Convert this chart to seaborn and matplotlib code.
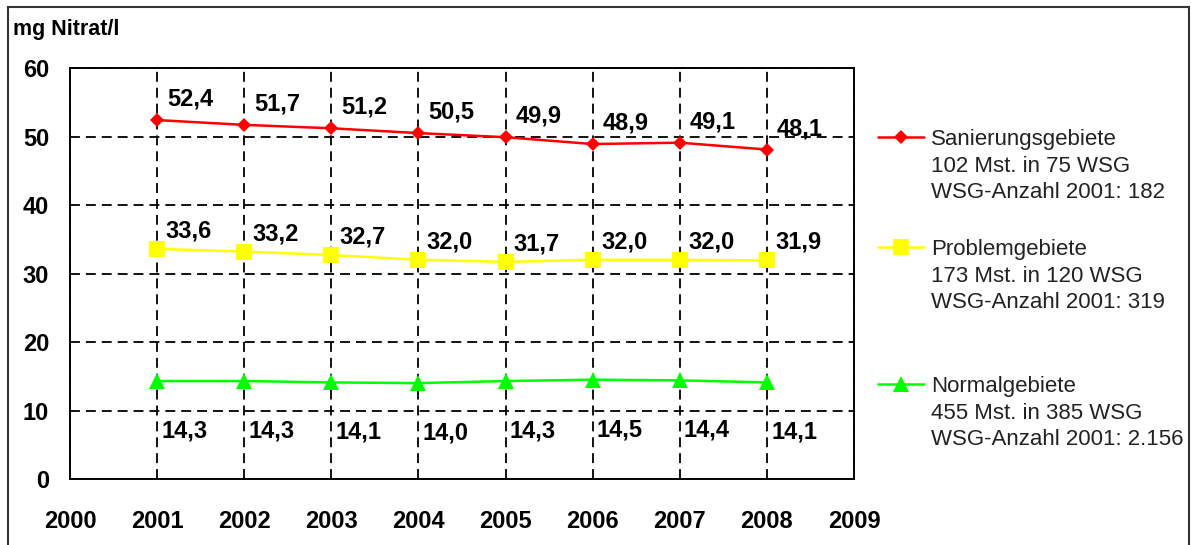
import pandas as pd
import matplotlib.pyplot as plt
import seaborn as sns
from matplotlib.patches import Rectangle

# Werte (mg Nitrat/l) je Gebietstyp
jahre = [2001, 2002, 2003, 2004, 2005, 2006, 2007, 2008]
sanierung = [52.4, 51.7, 51.2, 50.5, 49.9, 48.9, 49.1, 48.1]
problem = [33.6, 33.2, 32.7, 32.0, 31.7, 32.0, 32.0, 31.9]
normal = [14.3, 14.3, 14.1, 14.0, 14.3, 14.5, 14.4, 14.1]

gebiete = ['Sanierungsgebiete', 'Problemgebiete', 'Normalgebiete']
legenden_text = [
    'Sanierungsgebiete\n102 Mst. in 75 WSG\nWSG-Anzahl 2001: 182',
    'Problemgebiete\n173 Mst. in 120 WSG\nWSG-Anzahl 2001: 319',
    'Normalgebiete\n455 Mst. in 385 WSG\nWSG-Anzahl 2001: 2.156',
]
x_ticks = list(range(2000, 2010))
y_ticks = [0, 10, 20, 30, 40, 50, 60]

farben = {'Sanierungsgebiete': '#ff0000', 'Problemgebiete': '#ffff00', 'Normalgebiete': '#00ff00'}
marker = {'Sanierungsgebiete': 'D', 'Problemgebiete': 's', 'Normalgebiete': '^'}

sns.set_theme(style='white')
plt.rcParams['font.family'] = ['Liberation Sans', 'DejaVu Sans']

df = pd.DataFrame({
    'Jahr': jahre * 3,
    'Wert': sanierung + problem + normal,
    'Gebiet': [g for g in gebiete for _ in jahre],
})

fig = plt.figure(figsize=(11.91, 5.45), dpi=100)
ax = fig.add_axes([0.0588, 0.1211, 0.717 - 0.0588, 0.8752 - 0.1211])

sns.lineplot(data=df, x='Jahr', y='Wert', hue='Gebiet', style='Gebiet',
             palette=farben, markers=marker, dashes=False, linewidth=1.8,
             markersize=11, markeredgewidth=0, ax=ax)
# Raute etwas kleiner
for line in ax.lines:
    if line.get_marker() == 'D':
        line.set_markersize(7.5)

handles = list(ax.get_legend().legend_handles)
ax.get_legend().remove()
for h in handles:
    if h.get_marker() == 'D':
        h.set_markersize(7.5)

# Achsen
ax.set_xlim(2000, 2009)
ax.set_ylim(0, 60)
ax.set_xticks(x_ticks)
ax.set_yticks(y_ticks)
ax.set_xlabel('')
ax.set_ylabel('')
ax.tick_params(axis='both', labelsize=17, length=6, width=1.4, direction='out',
               color='black', labelcolor='black', pad=9)
ax.tick_params(axis='x', pad=16)
for lab in ax.get_xticklabels() + ax.get_yticklabels():
    lab.set_fontweight('bold')
for sp in ax.spines.values():
    sp.set_visible(True)
    sp.set_color('black')
    sp.set_linewidth(1.4)
ax.set_axisbelow(True)
ax.grid(True, color='black', linewidth=1.3, linestyle=(0, (5.5, 3.3)))

# Datenbeschriftungen
versatz = {'Sanierungsgebiete': (7, 15), 'Problemgebiete': (6, 13), 'Normalgebiete': (3, -36)}
for g, werte in zip(gebiete, [sanierung, problem, normal]):
    for j, v in zip(jahre, werte):
        ax.annotate(f'{v:.1f}'.replace('.', ','), xy=(j, v), xytext=versatz[g],
                    textcoords='offset points', ha='left', va='center',
                    fontsize=17, fontweight='bold', color='black')

# Einheit
fig.text(0.011, 0.945, 'mg Nitrat/l', fontsize=15.5, fontweight='bold',
         ha='left', va='center', color='black')

# Legende: ein Eintrag je Gebiet
leg_y = [0.763, 0.5615, 0.310]
for h, txt, y in zip(handles, legenden_text, leg_y):
    leg = fig.legend(handles=[h], labels=[txt], loc='upper left',
                     bbox_to_anchor=(0.737, y), frameon=False, fontsize=16,
                     borderpad=0, borderaxespad=0, handlelength=2.1,
                     handletextpad=0.3)
    for col in leg._legend_handle_box.get_children():
        for item in col.get_children():
            item.align = 'top'
    for t in leg.get_texts():
        t.set_linespacing(1.35)
        t.set_color('#222222')

# Rahmen um die Grafik
fig.patches.append(Rectangle((8 / 1191, -0.02), (1189 - 8) / 1191, 1.007,
                             transform=fig.transFigure, fill=False,
                             edgecolor='#333333', linewidth=1.5))

plt.savefig('out.png', dpi=100)
plt.close()
